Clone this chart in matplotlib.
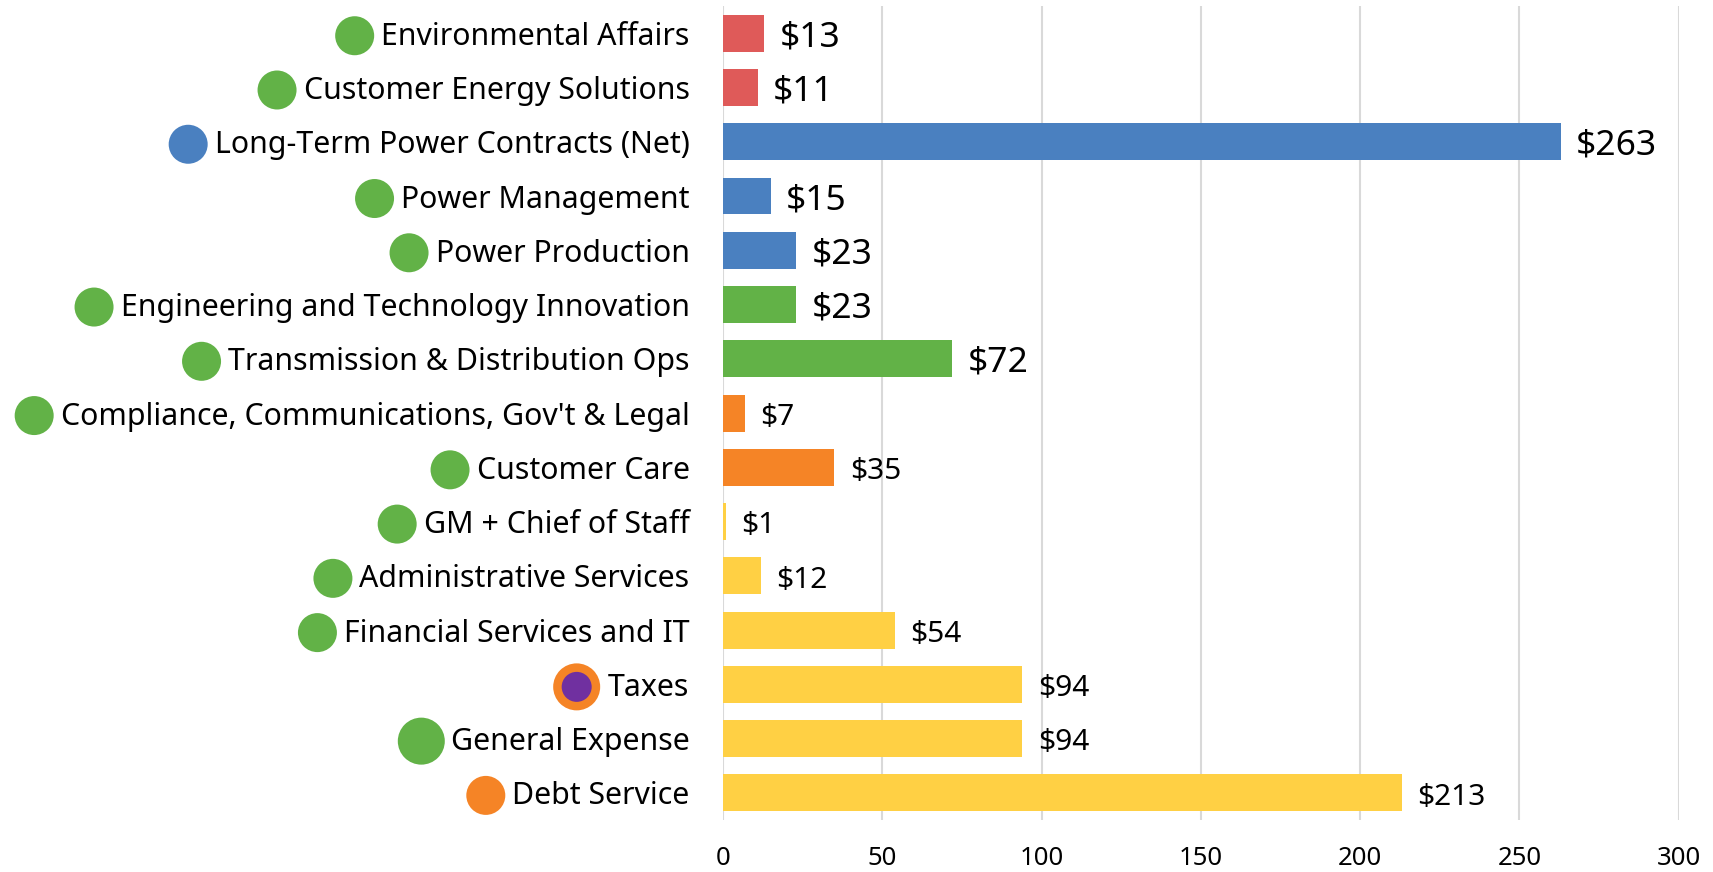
import matplotlib
matplotlib.use('Agg')
import matplotlib.pyplot as plt
from matplotlib.patches import Circle

# ----------------------------------------------------------------------------------------------------------------------
#  DATA
# ----------------------------------------------------------------------------------------------------------------------
categories = ['Environmental Affairs', 'Customer Energy Solutions', 'Long-Term Power Contracts (Net)',
              'Power Management', 'Power Production', 'Engineering and Technology Innovation',
              'Transmission & Distribution Ops', "Compliance, Communications, Gov't & Legal",
              'Customer Care', 'GM + Chief of Staff', 'Administrative Services',
              'Financial Services and IT', 'Taxes', 'General Expense', 'Debt Service']
values     = [13, 11, 263, 15, 23, 23, 72, 7, 35, 1, 12, 54, 94, 94, 213]
bar_group  = ['red', 'red', 'blue', 'blue', 'blue', 'green', 'green',
              'orange', 'orange', 'yellow', 'yellow', 'yellow', 'yellow', 'yellow', 'yellow']
dot_group  = ['green', 'green', 'blue', 'green', 'green', 'green', 'green',
              'green', 'green', 'green', 'green', 'green', 'taxes', 'green_big', 'orange']
big_label  = [True] * 7 + [False] * 8
x_ticks    = [0, 50, 100, 150, 200, 250, 300]

# ----------------------------------------------------------------------------------------------------------------------
#  STYLE
# ----------------------------------------------------------------------------------------------------------------------
bar_colors = {'red': '#DF5A59', 'blue': '#4A80C0', 'green': '#62B247',
              'orange': '#F58426', 'yellow': '#FFD044'}
dot_colors = {'green': '#62B247', 'blue': '#4A80C0', 'orange': '#F58426'}
purple     = '#7030A0'

plt.rcParams['font.family'] = ['Noto Sans', 'DejaVu Sans']

fig = plt.figure(figsize=(17.13, 8.72), dpi=100)
ax  = fig.add_axes([0.422, 0.0596, 0.558, 0.9334])

y = list(range(len(categories)))
ax.barh(y, values, height=0.68, color=[bar_colors[g] for g in bar_group], zorder=3)

for yi, v, big in zip(y, values, big_label):
    ax.annotate('$' + str(v), xy=(v, yi), xytext=(11, -3), textcoords='offset points',
                va='center', ha='left', fontsize=25.5 if big else 21.5)

ax.set_ylim(len(categories) - 0.5, -0.5)
ax.set_xlim(0, 300)
ax.set_yticks(y)
ax.set_yticklabels(categories, fontsize=21.8)
ax.set_xticks(x_ticks)
ax.set_xticklabels([str(t) for t in x_ticks], fontsize=18.5)
ax.tick_params(axis='y', length=0, pad=24)
ax.tick_params(axis='x', length=0, pad=19)
ax.grid(axis='x', color='#D9D9D9', linewidth=1.5, zorder=0)
for s in ax.spines.values():
    s.set_visible(False)

# dots left of each category label
fig.canvas.draw()
renderer = fig.canvas.get_renderer()
for lab, g in zip(ax.get_yticklabels(), dot_group):
    bb  = lab.get_window_extent(renderer)
    cy  = (bb.y0 + bb.y1) / 2 + 1
    if g == 'taxes':
        r = 23.5
        cx = bb.x0 - 8 - r
        fig.add_artist(Circle((cx, cy), r, transform=None, color=dot_colors['orange'], lw=0))
        fig.add_artist(Circle((cx, cy), 15, transform=None, color=purple, lw=0))
    elif g == 'green_big':
        r = 23.5
        cx = bb.x0 - 6 - r
        fig.add_artist(Circle((cx, cy), r, transform=None, color=dot_colors['green'], lw=0))
    else:
        r = 19.5
        cx = bb.x0 - 7 - r
        fig.add_artist(Circle((cx, cy), r, transform=None, color=dot_colors[g], lw=0))

fig.savefig('out.png', dpi=100)
